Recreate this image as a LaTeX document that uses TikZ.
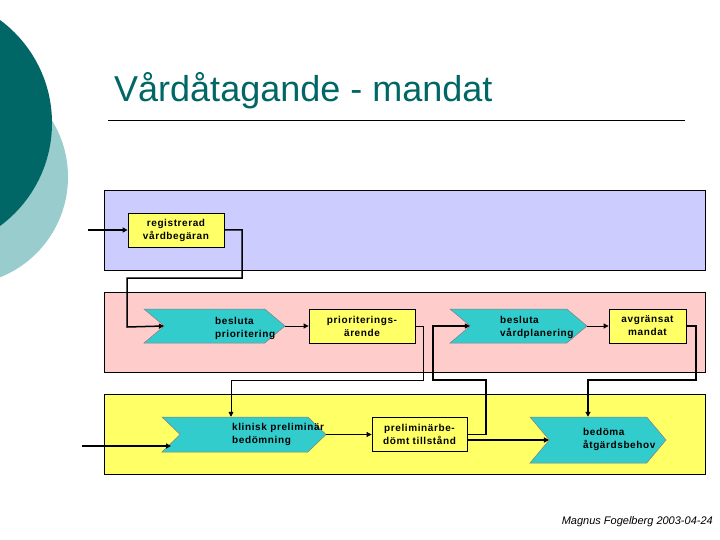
\documentclass[tikz,border=0pt]{standalone}
\usepackage{fontspec}
\setmainfont{Liberation Sans}
\newfontfamily\boxfont[LetterSpace=6]{Liberation Sans}
\usetikzlibrary{calc,arrows.meta,shapes.symbols}
\definecolor{darkteal}{HTML}{006666}
\definecolor{lightteal}{HTML}{99CCCC}
\definecolor{laneblue}{HTML}{CCCCFF}
\definecolor{lanepink}{HTML}{FFCCCC}
\definecolor{laneyellow}{HTML}{FFFF66}
\definecolor{chevfill}{HTML}{33CCCC}
\tikzset{x=1pt, y=-1pt,
  lane/.style={draw=black, line width=0.8pt},
  task box/.style={draw=black, fill=laneyellow, line width=0.8pt,
        minimum height=34pt, inner sep=0pt, align=center,
        font=\boxfont\fontsize{10}{13}\selectfont\bfseries},
  chevron/.style={signal, signal from=west, signal to=east, fill=chevfill,
        draw=black!50, line width=0.5pt, minimum height=34pt, inner sep=0pt,
        signal pointer angle=80},
  chevron text/.style={right, align=left, inner sep=0pt,
        font=\boxfont\fontsize{10}{13}\selectfont\bfseries},
  flow/.style={line width=1.5pt, -{Triangle[length=5pt,width=5pt]}},
  mid flow/.style={line width=1.1pt, -{Triangle[length=5pt,width=5pt]}},
  thin flow/.style={line width=0.8pt, -{Triangle[length=5pt,width=5pt]}},
  thin line/.style={line width=0.8pt}
}
\def\Lane#1#2{%
  \draw[lane, fill=#1] (104,#2) rectangle (705,#2+80);
}

\begin{document}
\begin{tikzpicture}
\useasboundingbox (0,0) rectangle (720,540);
% background circles and title
\fill[lightteal] (-40,177) circle (108pt);
\fill[darkteal] (-76,123) circle (128pt);
\node (title) [anchor=base west, inner sep=0pt, text=darkteal,
  font=\fontsize{36}{40}\selectfont] at (114,102) {Vårdåtagande - mandat};
\draw[thin line] (108,120) -- (685,120);
\Lane{laneblue}{190}
\Lane{lanepink}{292}
\Lane{laneyellow}{394}
% nodes
\node (reg) [task box, minimum width=96pt] at (176,230) {registrerad\\vårdbegäran};
\node (bprio) [chevron, minimum width=141pt] at (214.5,326) {};
\node (bprio-t) [chevron text] at (215,328) {besluta\\prioritering};
\node (prioa) [task box, minimum width=106pt] at (362,326) {prioriterings-\\ärende};
\node (bvard) [chevron, minimum width=137pt] at (518.5,326) {};
\node (bvard-t) [chevron text] at (500,327.5) {besluta\\vårdplanering};
\node (avgr) [task box, minimum width=77pt] at (647.5,326) {avgränsat\\mandat};
\node (klin) [chevron, minimum width=164pt, minimum height=35pt,
  signal pointer angle=88] at (244,434.5) {};
\node (klin-t) [chevron text] at (232,434.5) {klinisk preliminär\\bedömning};
\node (prelim) [task box, minimum width=95pt] at (419.5,434.5) {preliminärbe-\\dömt tillstånd};
\node (bedo) [chevron, minimum width=136pt, minimum height=46pt,
  signal pointer angle=100] at (598,440) {};
\node (bedo-t) [chevron text] at (583,439.5) {bedöma\\åtgärdsbehov};
\node (sign) [anchor=base east, inner sep=0pt,
  font=\fontsize{11}{13}\selectfont\itshape] at (713,524) {Magnus Fogelberg 2003-04-24};
% connectors
\coordinate (in1) at (88,230);
\coordinate (in2) at (82,446);
\draw[flow] (in1) -- (reg.west);
\draw[flow] (reg.east) -| (242,278) -| (127,327) -- (bprio.west);
\draw[thin flow] (bprio.east) -- (prioa.west);
\draw[thin flow] (prioa.east) -| (423,380) -| ([xshift=-13pt]klin.north);
\draw[flow] (prelim.east) -| (486,380) -| (433,326) -- (bvard.west);
\draw[thin flow] (bvard.east) -- (avgr.west);
\draw[mid flow] (avgr.east) -| (696,380) -| ([xshift=-10pt]bedo.north);
\draw[flow] ([yshift=-5.5pt]prelim.east) -- (bedo.west);
\draw[flow] (in2) -- ($(klin.center)+(-73,11.5)$);
\draw[thin flow] (klin.east) -- (prelim.west);
\end{tikzpicture}
\end{document}
